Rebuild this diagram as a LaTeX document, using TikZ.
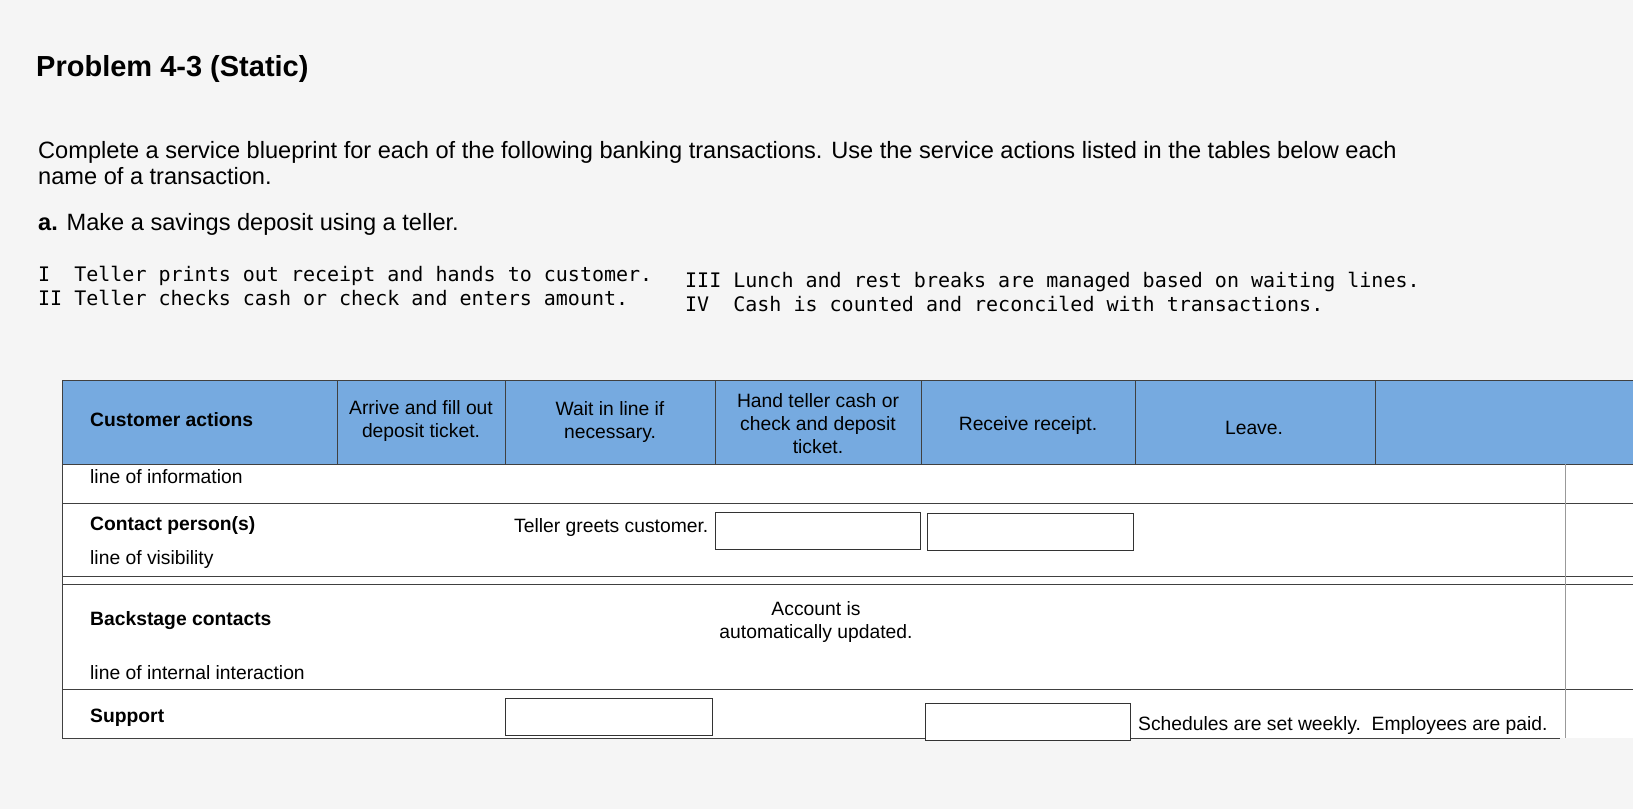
\documentclass[tikz,border=0pt]{standalone}
\usepackage{fontspec}
\setmainfont{Liberation Sans}
\setmonofont{DejaVu Sans Mono}
\begin{document}
\begin{tikzpicture}[x=1pt,y=-1pt,
  txt/.style={inner sep=0pt,anchor=west,font=\fontsize{19.3}{21}\selectfont},
  btxt/.style={txt,font=\fontsize{19.3}{21}\selectfont\bfseries},
  ctr/.style={inner sep=0pt,align=center,font=\fontsize{19.3}{23}\selectfont},
  mono/.style={inner sep=0pt,anchor=west,font=\fontsize{20}{22}\ttfamily},
  para/.style={inner sep=0pt,anchor=west,font=\fontsize{23.6}{24}\selectfont},
  ebox/.style={draw=black!80,line width=1pt,fill=white},
  grid/.style={draw=black!75,line width=1pt}]
\fill[gray!8] (0,0) rectangle (1633,809);
\useasboundingbox (0,0) rectangle (1633,809);
\node[inner sep=0pt,anchor=west,font=\fontsize{29}{30}\selectfont\bfseries] (title) at (36,69) {Problem 4-3 (Static)};
\node[para] (p1) at (38,152) {Complete a service blueprint for each of the following banking transactions. Use the service actions listed in the tables below each};
\node[para] (p2) at (38,176) {name of a transaction.};
\node[para] (pa) at (38,224) {\textbf{a.} Make a savings deposit using a teller.};
\node[mono] (m1) at (38,276) {I\ \ Teller prints out receipt and hands to customer.};
\node[mono] (m2) at (38,298) {II Teller checks cash or check and enters amount.};
\node[mono] (m3) at (685,282) {III\ Lunch and rest breaks are managed based on waiting lines.};
\node[mono] (m4) at (685,304) {IV\ \ Cash is counted and reconciled with transactions.};
% table
\fill[white] (62,380) rectangle (1633,738);
\fill[cyan!60!blue!55] (62,380) rectangle (1633,464);
\draw[grid] (62,380) -- (1633,380) (62,464) -- (1633,464) (62,380) -- (62,738);
\foreach \x in {337,505,715,921,1135,1375} \draw[grid] (\x,380) -- (\x,464);
\draw[grid] (62,503) -- (1633,503) (62,576) -- (1633,576) (62,584) -- (1633,584) (62,689) -- (1633,689) (62,738) -- (1560,738);
\draw[grid,draw=black!40] (1565,464) -- (1565,738);
\node[btxt] (ca) at (90,420) {Customer actions};
\node[ctr] (h1) at (421,421) {Arrive and fill out\\deposit ticket.};
\node[ctr] (h2) at (610,422) {Wait in line if\\necessary.};
\node[ctr] (h3) at (818,424) {Hand teller cash or\\check and deposit\\ticket.};
\node[ctr] (h4) at (1028,426) {Receive receipt.};
\node[ctr] (h5) at (1254,428) {Leave.};
\node[txt] (li) at (90,477) {line of information};
\node[btxt] (cp) at (90,526) {Contact person(s)};
\node[txt] (lv) at (90,560) {line of visibility};
\node[txt] (tg) at (514,528) {Teller greets customer.};
\node[ebox,minimum width=205pt,minimum height=37pt] (b1) at (817.5,530.5) {};
\node[ebox,minimum width=206pt,minimum height=37pt] (b2) at (1030,532) {};
\node[btxt] (bc) at (90,621) {Backstage contacts};
\node[ctr] (au) at (816,622) {Account is\\automatically updated.};
\node[txt] (lii) at (90,673) {line of internal interaction};
\node[btxt] (su) at (90,718) {Support};
\node[ebox,minimum width=207pt,minimum height=37pt] (b3) at (608.5,717) {};
\node[ebox,minimum width=205pt,minimum height=37pt] (b4) at (1027.5,722) {};
\node[txt] (sch) at (1138,725) {Schedules are set weekly.\ \ Employees are paid.};
\end{tikzpicture}
\end{document}
